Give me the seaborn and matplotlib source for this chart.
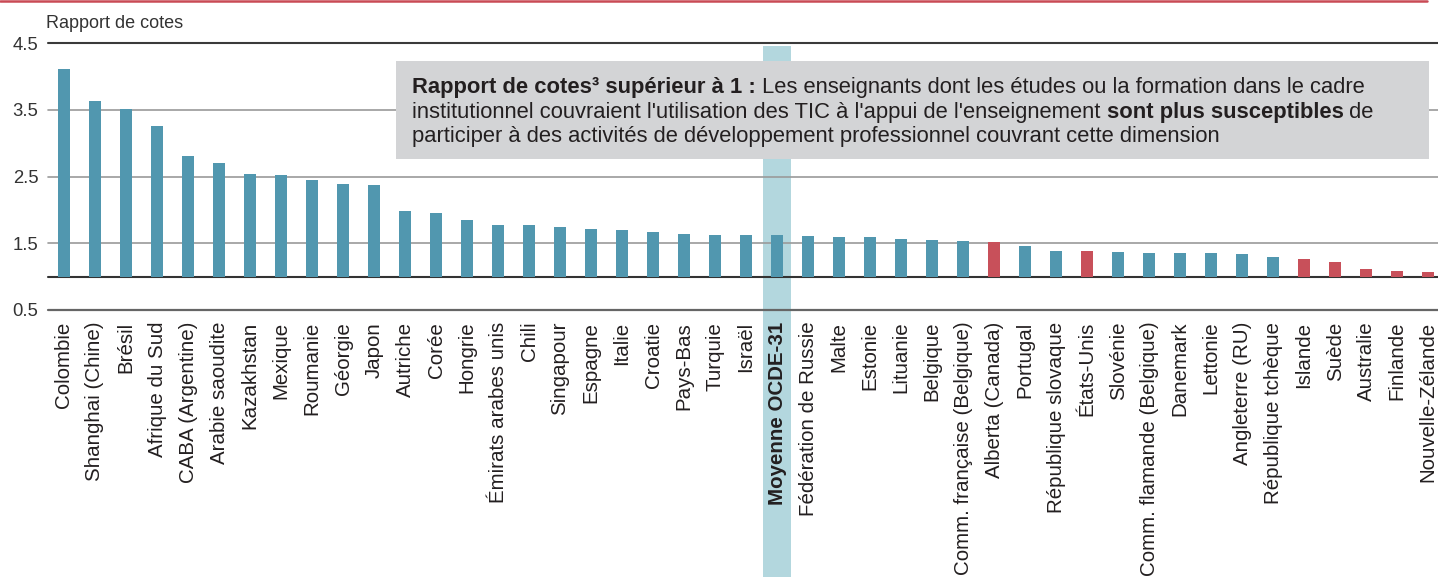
import matplotlib
matplotlib.use("Agg")
import matplotlib.pyplot as plt
import matplotlib.transforms as mtransforms
from matplotlib.patches import Rectangle
from matplotlib.lines import Line2D
import seaborn as sns
import pandas as pd

# ---------------- data ----------------
categories = [
    "Colombie", "Shanghai (Chine)", "Brésil", "Afrique du Sud", "CABA (Argentine)",
    "Arabie saoudite", "Kazakhstan", "Mexique", "Roumanie", "Géorgie", "Japon",
    "Autriche", "Corée", "Hongrie", "Émirats arabes unis", "Chili", "Singapour",
    "Espagne", "Italie", "Croatie", "Pays-Bas", "Turquie", "Israël",
    "Moyenne OCDE-31", "Fédération de Russie", "Malte", "Estonie", "Lituanie",
    "Belgique", "Comm. française (Belgique)", "Alberta (Canada)", "Portugal",
    "République slovaque", "États-Unis", "Slovénie", "Comm. flamande (Belgique)",
    "Danemark", "Lettonie", "Angleterre (RU)", "République tchèque", "Islande",
    "Suède", "Australie", "Finlande", "Nouvelle-Zélande",
]
odds_ratios = [
    4.11, 3.63, 3.51, 3.25, 2.81, 2.70, 2.53, 2.52, 2.45, 2.39, 2.37,
    1.98, 1.96, 1.85, 1.78, 1.78, 1.75, 1.71, 1.70, 1.67, 1.64, 1.63, 1.62,
    1.62, 1.61, 1.60, 1.59, 1.56, 1.545, 1.53, 1.515, 1.46,
    1.385, 1.385, 1.375, 1.36, 1.355, 1.35, 1.34, 1.29, 1.265,
    1.215, 1.115, 1.085, 1.07,
]
significant = [
    "oui", "oui", "oui", "oui", "oui", "oui", "oui", "oui", "oui", "oui", "oui",
    "oui", "oui", "oui", "oui", "oui", "oui", "oui", "oui", "oui", "oui", "oui", "oui",
    "oui", "oui", "oui", "oui", "oui", "oui", "oui", "non", "oui",
    "oui", "non", "oui", "oui", "oui", "oui", "oui", "oui", "non",
    "non", "non", "non", "non",
]
highlight = "Moyenne OCDE-31"
y_ticks = [0.5, 1.5, 2.5, 3.5, 4.5]
y_tick_labels = ["0.5", "1.5", "2.5", "3.5", "4.5"]
baseline = 1.0

df = pd.DataFrame({"pays": categories, "rapport": odds_ratios, "sig": significant})

# ---------------- style ----------------
sns.set_theme(style="white")
plt.rcParams["font.family"] = ["Liberation Sans", "DejaVu Sans"]
TEXT = "#231f20"
TEAL = "#5197af"
RED = "#c8505a"

fig = plt.figure(figsize=(14.38, 5.77), dpi=100)
W, H = 1438, 577
ax = fig.add_axes([48 / W, 1 - 310 / H, 1 - 48 / W, (310 - 43) / H])
ax.set_facecolor("none")
ax.set_axisbelow(True)

sns.barplot(data=df, x="pays", y="rapport", hue="sig", order=categories,
            palette={"oui": TEAL, "non": RED}, dodge=False, width=0.39,
            legend=False, saturation=1, ax=ax, zorder=3)
bars = list(ax.patches)
for p in bars:
    h = p.get_height()
    p.set_y(baseline)
    p.set_height(h - baseline)
    p.set_linewidth(0)

ax.set_ylim(0.5, 4.5)
ax.set_xlim(-0.516, 44.32)

# horizontal reference lines
for yv, col, lw in [(4.5, "#3a3a3a", 1.5), (3.5, "#9a9a9a", 1.2), (2.5, "#9a9a9a", 1.2),
                    (1.5, "#9a9a9a", 1.2), (baseline, "#333333", 1.5), (0.5, "#666666", 1.6)]:
    ax.axhline(yv, color=col, lw=lw, zorder=2, clip_on=False)

for s in ax.spines.values():
    s.set_visible(False)

ax.set_yticks(y_ticks)
ax.set_yticklabels(y_tick_labels)
ax.tick_params(axis="y", length=0, pad=7, labelsize=13.3, labelcolor="#333333")
ax.tick_params(axis="x", length=0, pad=8.5, labelsize=14.8, labelcolor=TEXT)
ax.set_xticks(range(len(categories)))
ax.set_xticklabels(categories, rotation=90)
hi = categories.index(highlight)
ax.get_xticklabels()[hi].set_fontweight("bold")
ax.set_xlabel("")
ax.set_ylabel("")
ax.grid(False)

# highlight band for OECD average
trans = mtransforms.blended_transform_factory(ax.transData, ax.transAxes)
band = Rectangle((hi - 0.465, -1.05), 0.93, 1.05 + (4.455 - 0.5) / 4.0,
                 transform=trans, facecolor="#b3d7de", edgecolor="none",
                 zorder=0.3, clip_on=False)
ax.add_patch(band)

# annotation box
box = Rectangle((0.2504, 0.5655), 0.9935 - 0.2504, 0.9326 - 0.5655,
                transform=ax.transAxes, facecolor="#d3d4d6", edgecolor="none",
                zorder=4)
ax.add_patch(box)

fs = 15.8
x0 = 0.2619
lines = [
    (0.8127, [("Rapport de cotes³ supérieur à 1 :", "bold"),
              (" Les enseignants dont les études ou la formation dans le cadre", "normal")]),
    (0.7202, [("institutionnel couvraient l'utilisation des TIC à l'appui de l'enseignement ", "normal"),
              ("sont plus susceptibles", "bold"),
              (" de", "normal")]),
    (0.6277, [("participer à des activités de développement professionnel couvrant cette dimension", "normal")]),
]
for yb, pieces in lines:
    prev = None
    for txt, wt in pieces:
        if prev is None:
            prev = ax.text(x0, yb, txt, transform=ax.transAxes, fontsize=fs,
                           fontweight=wt, color=TEXT, va="baseline", ha="left", zorder=5)
        else:
            prev = ax.annotate(txt, xy=(1, 0), xycoords=prev, fontsize=fs,
                               fontweight=wt, color=TEXT, va="bottom", ha="left", zorder=5)

# axis title
fig.text(46 / W, 1 - 23 / H, "Rapport de cotes", fontsize=13, color="#333333",
         ha="left", va="center")

# red rule on top
fig.add_artist(Line2D([0, 1427 / W], [1 - 1.2 / H, 1 - 1.2 / H], color="#c94a55", lw=1.8))

fig.savefig("out.png", dpi=100)
